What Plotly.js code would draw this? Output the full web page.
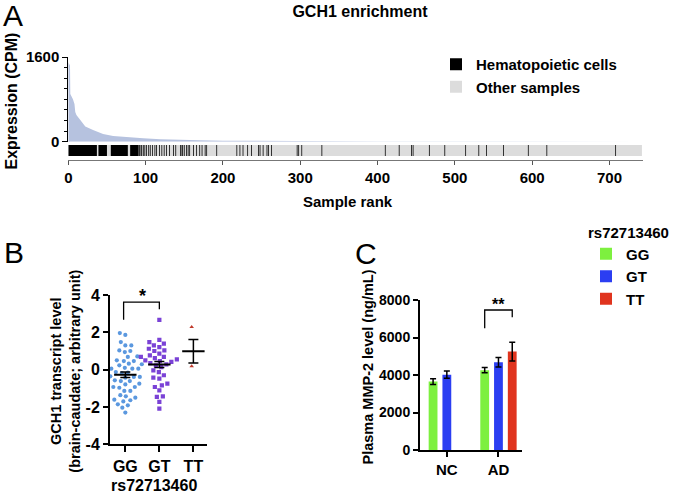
<!DOCTYPE html>
<html><head><meta charset="utf-8">
<script src="https://cdn.plot.ly/plotly-3.0.1.min.js"></script>
<style>html,body{margin:0;padding:0;background:#fff}#chart{width:680px;height:497px}</style>
</head><body><div id="chart"></div>
<script>
// ---------- Panel A data ----------
const nSamples = 742;
const rankKnots = [0, 2.2, 2.6, 4, 6, 8, 9, 10.5, 15, 22, 32, 45, 58, 75, 97, 119, 140, 170, 200, 250, 300, 400, 500, 600, 700, 742];
const exprKnots = [1500, 1440, 900, 860, 800, 710, 560, 505, 420, 285, 222, 146, 108, 83, 64, 45, 32, 26, 20, 13, 9, 5, 3, 1.5, 0.5, 0];
const hemaBlocks = [[0, 37], [39, 50], [55, 77], [80, 91]];
const hemaRanks = [92, 94, 95, 97, 99, 101, 104, 106, 109, 112, 114, 118, 121, 124, 127, 131, 136, 139, 145, 147, 148, 150, 153, 155, 157, 162, 166, 170, 173, 177, 179, 192, 218, 222, 226, 232, 237, 246, 248, 252, 257, 259, 263, 296, 298, 302, 328, 410, 428, 444, 446, 467, 487, 514, 531, 541, 563, 595, 619, 708];
const rankTicks = [0, 100, 200, 300, 400, 500, 600, 700];

// ---------- Panel B data ----------
const genotypes = ['GG', 'GT', 'TT'];
const ggVals = [1.96, 1.86, 1.48, 1.30, 1.30, 1.03, 1.00, 0.94, 0.71, 0.68, 0.50, 0.46, 0.46, 0.32, 0.29, 0.23, 0.29, 0.05, 0.10, 0.05, 0.05,
  -0.13, -0.18, -0.16, -0.36, -0.39, -0.43, -0.39, -0.57, -0.61, -0.61, -0.75, -0.79, -0.93, -0.97, -0.93, -1.14, -1.14, -1.37, -1.43,
  -1.50, -1.61, -1.64, -1.70, -1.86, -1.91, -2.04, -2.30];
const gtVals = [2.67, 1.60, 1.39, 1.48, 1.30, 1.21, 1.12, 1.03, 1.00, 0.86, 0.77, 0.68, 0.68, 0.62, 0.55, 0.50, 0.46, 0.42, 0.35, 0.28, 0.23, 0.14,
  -0.04, -0.13, -0.30, -0.43, -0.48, -0.75, -0.84, -0.93, -1.11, -1.43, -1.46, -1.73, -2.09];
const ttVals = [2.28, 0.18];
const groupMean = [-0.27, 0.28, 0.98];
const groupSem = [0.15, 0.16, 0.63];
const sigB = {from: 0, to: 1, top: 3.62, leftEnd: 2.68, rightEnd: 3.23, label: '*'};
const bTicks = [-4, -2, 0, 2, 4];
const bTickText = ['-4', '-2', '0', '2', '4'];

// ---------- Panel C data ----------
const groupsC = ['NC', 'AD'];
const mmpGG = [3650, 4260], errGG = [150, 140];
const mmpGT = [4020, 4680], errGT = [190, 250];
const mmpTT = [null, 5250], errTT = [null, 500];
const sigC = {top: 7467, leftEnd: 6490, rightEnd: 7077, label: '**'};

// ---------- helpers ----------
const W = 680, H = 497;
const px = v => v / W;
const py = v => 1 - v / H;
const FONT = 'Liberation Sans, Arial, Helvetica, sans-serif';
const bold = (size) => ({family: FONT, size: size, color: '#000', weight: 'bold'});

function swarm(vals, pxPerY, pxPerX, d) {
  const order = vals.map((v, i) => i).sort((a, b) => vals[a] - vals[b]);
  const placed = [];
  const off = new Array(vals.length).fill(0);
  for (const i of order) {
    const y = vals[i] * pxPerY;
    for (let k = 0; k < 200; k++) {
      const step = Math.ceil(k / 2) * 0.5;
      const dx = (k % 2 === 0) ? step : -step;
      let ok = true;
      for (const p of placed) {
        const ddx = p[0] - dx, ddy = p[1] - y;
        if (ddx * ddx + ddy * ddy < d * d) { ok = false; break; }
      }
      if (ok) { placed.push([dx, y]); off[i] = dx / pxPerX; break; }
    }
  }
  return off;
}

const bPxPerY = 149.3 / 8, bPxPerX = 97 / 2.85;
const ggOff = swarm(ggVals, bPxPerY, bPxPerX, 5.6);
const gtOff = swarm(gtVals, bPxPerY, bPxPerX, 5.6);

const traces = [];
// A: area
traces.push({type: 'scatter', mode: 'lines', x: rankKnots, y: exprKnots, xaxis: 'x', yaxis: 'y',
  fill: 'tozeroy', fillcolor: '#b6c2df', line: {width: 0, color: '#b6c2df'}, showlegend: false, hoverinfo: 'skip'});
// A: band (other samples)
traces.push({type: 'bar', x: [0], y: [1], width: [nSamples], offset: 0, base: 0, xaxis: 'x', yaxis: 'y2',
  marker: {color: '#dcdcdc', line: {width: 0}}, name: 'Other samples', legend: 'legend', legendrank: 2});
// A: hematopoietic
const hx = [], hw = [];
hemaBlocks.forEach(b => { hx.push(b[0]); hw.push(b[1] - b[0]); });
hemaRanks.forEach(r => { hx.push(r - 0.5); hw.push(1); });
traces.push({type: 'bar', x: hx, y: hx.map(() => 1), width: hw, offset: 0, base: 0, xaxis: 'x', yaxis: 'y2',
  marker: {color: '#000', line: {width: 0}}, name: 'Hematopoietic cells', legend: 'legend', legendrank: 1});

// B: points
traces.push({type: 'scatter', mode: 'markers', x: ggOff.map(o => 0 + o), y: ggVals, xaxis: 'x2', yaxis: 'y3',
  marker: {color: '#5b98df', size: 4.2}, showlegend: false});
traces.push({type: 'scatter', mode: 'markers', x: gtOff.map(o => 1 + o), y: gtVals, xaxis: 'x2', yaxis: 'y3',
  marker: {color: '#7a42d6', size: 4.2, symbol: 'square'}, showlegend: false});
traces.push({type: 'scatter', mode: 'markers', x: ttVals.map(() => 2 - 0.05), y: ttVals, xaxis: 'x2', yaxis: 'y3',
  marker: {color: '#c0392b', size: 4, symbol: 'triangle-up'}, showlegend: false});
traces.push({type: 'scatter', mode: 'markers', x: [0, 1, 2], y: groupMean, xaxis: 'x2', yaxis: 'y3',
  marker: {symbol: 'line-ew', size: 16, color: '#000', line: {width: 2, color: '#000'}},
  error_y: {type: 'data', array: groupSem, visible: true, color: '#000', thickness: 1.5, width: 5}, showlegend: false});

// C: bars
const colC = {GG: '#7df03f', GT: '#2b3ef2', TT: '#e0341e'};
[['GG', mmpGG, errGG], ['GT', mmpGT, errGT], ['TT', mmpTT, errTT]].forEach(([n, v, e]) => {
  traces.push({type: 'bar', name: n, x: groupsC, y: v, xaxis: 'x3', yaxis: 'y4', legend: 'legend2',
    marker: {color: colC[n], line: {width: 0}},
    error_y: {type: 'data', array: e, visible: true, color: '#000', thickness: 1.5, width: 3}});
});

// significance brackets
const bargap = 0.2, groupgap = 0.36;
const slot = (1 - bargap) / 3;
const shapes = [];
function bracket(xref, yref, x0, x1, s) {
  shapes.push({type: 'path', xref: xref, yref: yref,
    path: `M ${x0} ${s.leftEnd} L ${x0} ${s.top} L ${x1} ${s.top} L ${x1} ${s.rightEnd}`,
    line: {color: '#000', width: 1.3}});
}
bracket('x2', 'y3', sigB.from - 0.05, sigB.to, sigB);
bracket('x3', 'y4', 1 - slot, 1 + slot, sigC);

const annotations = [
  {text: 'A', x: px(12.5), y: py(16), font: {family: FONT, size: 30, color: '#000'}},
  {text: 'B', x: px(14), y: py(252), font: {family: FONT, size: 30, color: '#000'}},
  {text: 'C', x: px(366), y: py(253), font: {family: FONT, size: 30, color: '#000'}},
  {text: 'Expression (CPM)', x: px(11), y: py(101.5), textangle: -90, font: bold(16)},
  {text: 'Sample rank', x: px(348), y: py(201.5), font: bold(15)},
  {text: 'GCH1 transcript level<br>(brain-caudate; arbitrary unit)', x: px(66), y: py(371.7), textangle: -90, font: bold(14.5)},
  {text: 'rs72713460', x: px(154), y: py(485), font: bold(16)},
  {text: 'Plasma MMP-2 level (ng/mL)', x: px(367), y: py(367.5), textangle: -90, font: bold(14.5)},
  {text: sigB.label, xref: 'x2', yref: 'y3', x: (sigB.from + sigB.to) / 2, y: sigB.top, yanchor: 'bottom', yshift: -6, xanchor: 'center', font: bold(18)},
  {text: sigC.label, xref: 'x3', yref: 'y4', x: 1, y: sigC.top, yanchor: 'bottom', yshift: -5, xanchor: 'center', font: bold(16)}
].map(a => Object.assign({showarrow: false, xref: 'paper', yref: 'paper', xanchor: 'center', yanchor: 'middle'}, a));

const layout = {
  width: W, height: H,
  margin: {l: 0, r: 0, t: 0, b: 0},
  paper_bgcolor: '#fff', plot_bgcolor: 'rgba(0,0,0,0)',
  font: {family: FONT, color: '#000'},
  title: {text: 'GCH1 enrichment', font: bold(16), x: px(360), xanchor: 'center', y: py(11.5), yanchor: 'middle', yref: 'container', xref: 'container'},
  barmode: 'group', bargap: bargap, bargroupgap: groupgap,
  showlegend: true,
  legend: {x: px(436), y: py(48), xanchor: 'left', yanchor: 'top', font: bold(15), bgcolor: 'rgba(0,0,0,0)', traceorder: 'normal', tracegroupgap: 0},
  legend2: {x: px(586), y: py(218), xanchor: 'left', yanchor: 'top', font: bold(15), bgcolor: 'rgba(0,0,0,0)',
    title: {text: 'rs72713460', font: bold(15), side: 'top'}, traceorder: 'normal'},
  xaxis: {domain: [px(68.3), px(642.7)], range: [0, 743], anchor: 'free', position: py(159.5),
    showline: true, linecolor: '#777', linewidth: 1, ticks: 'outside', ticklen: 4, tickcolor: '#555',
    tickvals: rankTicks, tickfont: bold(15), showgrid: false, zeroline: false, fixedrange: true},
  yaxis: {domain: [py(141.7), py(57)], range: [0, 1600], anchor: 'x', showline: true, linecolor: '#000', linewidth: 1,
    ticks: 'outside', ticklen: 5, tickcolor: '#000', tickvals: [0, 1600], tickfont: bold(15), showgrid: false, zeroline: false,
    minor: {dtick: 200, ticks: 'outside', ticklen: 3, tickcolor: '#000', showgrid: false}},
  yaxis2: {domain: [py(156), py(145)], range: [0, 1], anchor: 'x', visible: false},
  xaxis2: {domain: [px(110), px(207)], range: [-0.45, 2.4], anchor: 'y3', showline: true, linecolor: '#000', linewidth: 2,
    ticks: 'outside', ticklen: 6, tickwidth: 2, tickcolor: '#000', tickvals: [0, 1, 2], ticktext: genotypes, tickfont: bold(16),
    showgrid: false, zeroline: false},
  yaxis3: {domain: [py(444.3), py(295)], range: [-4, 4], anchor: 'x2', showline: true, linecolor: '#000', linewidth: 2,
    ticks: 'outside', ticklen: 5, tickwidth: 2, tickcolor: '#000', tickvals: bTicks, ticktext: bTickText, tickfont: bold(16),
    showgrid: false, zeroline: false},
  xaxis3: {domain: [px(420), px(521.7)], type: 'category', range: [-0.52, 1.45], anchor: 'y4', showline: true, linecolor: '#000', linewidth: 2,
    ticks: 'outside', ticklen: 5, tickwidth: 2, tickcolor: '#000', tickfont: bold(15), showgrid: false, zeroline: false},
  yaxis4: {domain: [py(450), py(300)], range: [0, 8000], anchor: 'x3', showline: true, linecolor: '#000', linewidth: 2,
    ticks: 'outside', ticklen: 5, tickwidth: 2, tickcolor: '#000', tickvals: [0, 2000, 4000, 6000, 8000], tickfont: bold(14),
    showgrid: false, zeroline: false},
  shapes: shapes,
  annotations: annotations
};

Plotly.newPlot('chart', traces, layout, {displayModeBar: false, staticPlot: true});
</script></body></html>
